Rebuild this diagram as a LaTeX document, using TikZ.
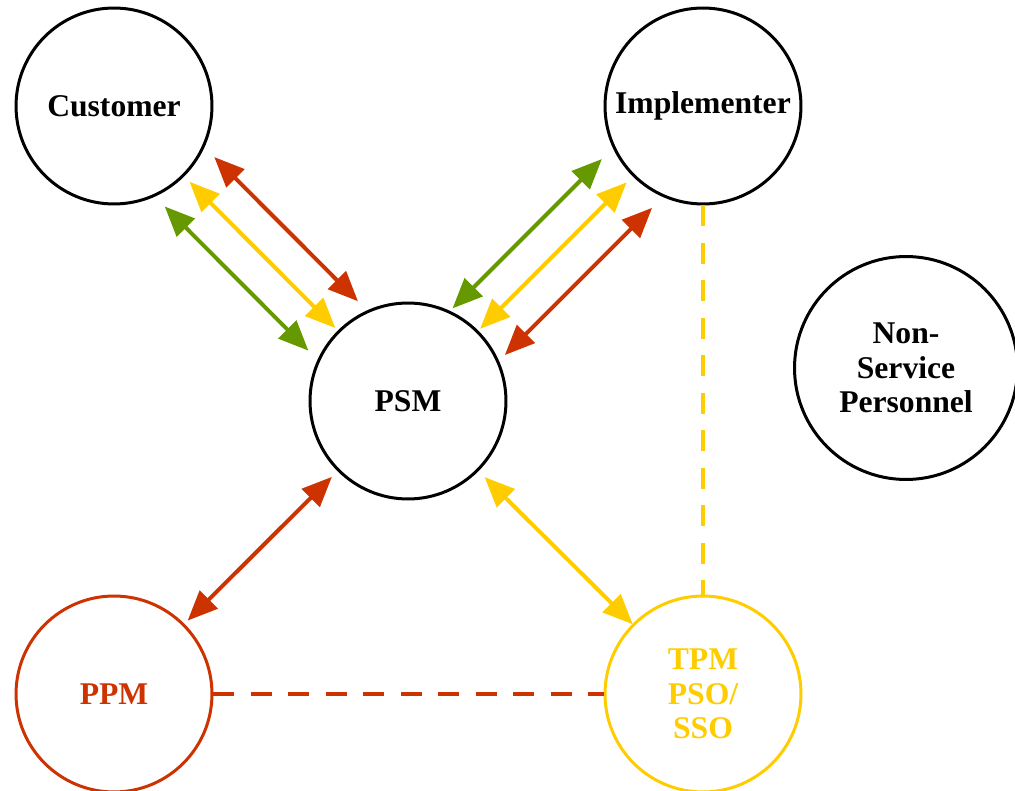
\documentclass[tikz,border=0pt]{standalone}
\usepackage{fontspec}
\setmainfont{Liberation Serif}
\usetikzlibrary{positioning, calc, arrows.meta}
\definecolor{rust}{HTML}{CC3300}
\definecolor{gold}{HTML}{FFCC00}
\definecolor{leaf}{HTML}{669900}
\tikzstyle{arrow} = [line width=0.08cm, {Triangle[length=0.6cm,width=0.5cm]}-{Triangle[length=0.6cm,width=0.5cm]}]
\tikzstyle{link} = [line width=0.08cm, dash pattern=on 0.42cm off 0.33cm]

\begin{document}
\begin{tikzpicture}[x=0.02cm, y=-0.02cm,
roundnode/.style={circle, draw=black, line width=0.06cm, minimum size=3.92cm, inner sep=0pt, align=center, font=\fontsize{18}{19.8}\selectfont\bfseries}
]
\useasboundingbox (0,0) rectangle (1015,791);
\node[roundnode] (cust) at (114,106) {Customer};
\node[roundnode] (impl) at (703,106) {Implementer};
\node[roundnode] (psm) at (408,401) {PSM};
\node[roundnode, minimum size=4.46cm] (nsp) at (906,368) {Non-\\Service\\Personnel};
\node[roundnode, draw=rust, text=rust] (ppm) at (114,694) {PPM};
\node[roundnode, draw=gold, text=gold] (tpm) at (703,694) {TPM\\PSO/\\SSO};

% customer <-> psm
\draw[arrow, rust] ($(cust)!2.14cm!(psm)!0.7cm!90:(psm)$) -- ($(psm)!2.12cm!(cust)!0.7cm!-90:(cust)$);
\draw[arrow, gold] ($(cust)!2.14cm!(psm)$) -- ($(psm)!2.06cm!(cust)$);
\draw[arrow, leaf] ($(cust)!2.14cm!(psm)!0.7cm!-90:(psm)$) -- ($(psm)!2.12cm!(cust)!0.7cm!90:(cust)$);

% implementer <-> psm
\draw[arrow, rust] ($(impl)!2.16cm!(psm)!0.72cm!90:(psm)$) -- ($(psm)!2.02cm!(impl)!0.72cm!-90:(impl)$);
\draw[arrow, gold] ($(impl)!2.16cm!(psm)$) -- ($(psm)!2.04cm!(impl)$);
\draw[arrow, leaf] ($(impl)!2.18cm!(psm)!0.68cm!-90:(psm)$) -- ($(psm)!1.94cm!(impl)!0.68cm!90:(impl)$);

% psm <-> ppm, tpm
\draw[arrow, rust] ($(psm)!2.15cm!(ppm)$) -- ($(ppm)!2.08cm!(psm)$);
\draw[arrow, gold] ($(psm)!2.16cm!(tpm)$) -- ($(tpm)!1.98cm!(psm)$);

\draw[link, gold] (impl) -- (tpm);
\draw[link, rust] (ppm) -- (tpm);
\end{tikzpicture}
\end{document}
